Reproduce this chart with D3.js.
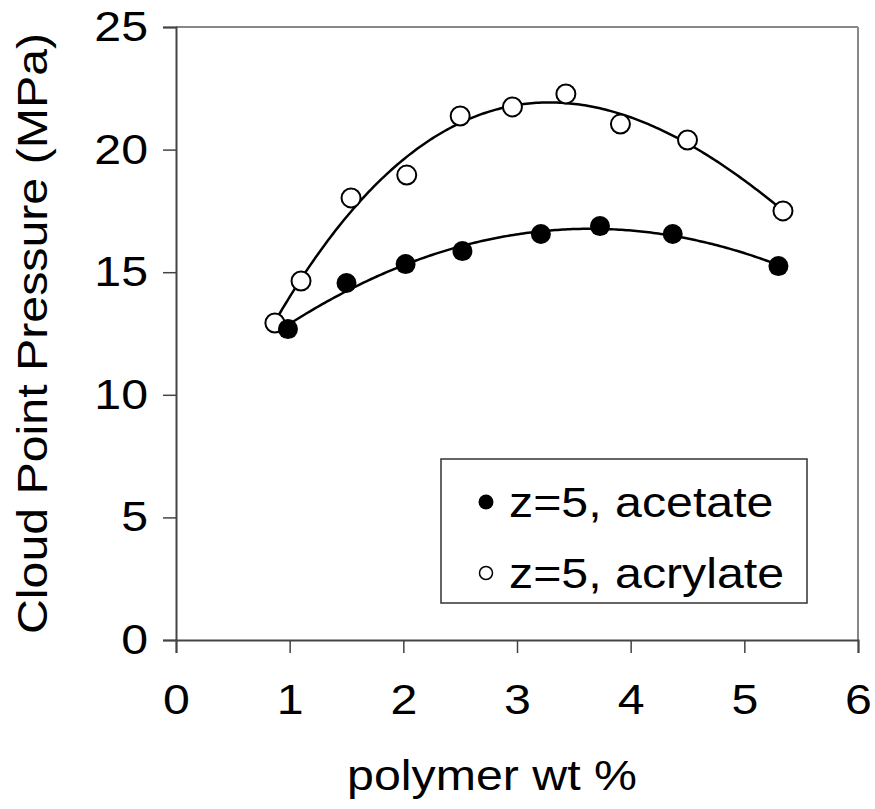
<!DOCTYPE html>
<html><head><meta charset="utf-8">
<script src="https://cdn.jsdelivr.net/npm/d3@7"></script>
<style>body{margin:0;background:#fff}svg{display:block}text{font-family:"Liberation Sans",Arial,sans-serif;fill:#000}</style>
</head><body><svg id="c" width="875" height="809"></svg>
<script>
const acetateX = [0.985, 1.50, 2.02, 2.52, 3.21, 3.73, 4.37, 5.30];
const acetateY = [12.68, 14.56, 15.33, 15.86, 16.56, 16.88, 16.56, 15.25];
const acrylateX = [0.87, 1.10, 1.54, 2.03, 2.50, 2.96, 3.43, 3.91, 4.50, 5.34];
const acrylateY = [12.93, 14.64, 18.03, 18.96, 21.37, 21.74, 22.27, 21.04, 20.39, 17.50];
const xTicks = [0, 1, 2, 3, 4, 5, 6];
const yTicks = [0, 5, 10, 15, 20, 25];
const legendLabels = ["z=5, acetate", "z=5, acrylate"];

const svg = d3.select("#c");
const L = 176, R = 858, T = 27, B = 640;
const SX = 1.15; // horizontal stretch of the original text
const x = d3.scaleLinear().domain([0, 6]).range([L, R]);
const y = d3.scaleLinear().domain([0, 25]).range([B, T]);

function polyfit(xs, ys, deg) {
  const n = deg + 1;
  const A = Array.from({length: n}, () => new Array(n + 1).fill(0));
  for (let k = 0; k < xs.length; k++) {
    for (let i = 0; i < n; i++) {
      for (let j = 0; j < n; j++) A[i][j] += Math.pow(xs[k], i + j);
      A[i][n] += ys[k] * Math.pow(xs[k], i);
    }
  }
  for (let i = 0; i < n; i++) {
    let p = i;
    for (let r = i + 1; r < n; r++) if (Math.abs(A[r][i]) > Math.abs(A[p][i])) p = r;
    [A[i], A[p]] = [A[p], A[i]];
    for (let r = 0; r < n; r++) {
      if (r === i) continue;
      const f = A[r][i] / A[i][i];
      for (let c = i; c <= n; c++) A[r][c] -= f * A[i][c];
    }
  }
  const coef = A.map((row, i) => row[n] / row[i]);
  return t => coef.reduce((s, c, i) => s + c * Math.pow(t, i), 0);
}

svg.append("line").attr("x1", L).attr("x2", R).attr("y1", T).attr("y2", T).attr("stroke", "#888").attr("stroke-width", 2);
svg.append("line").attr("x1", R).attr("x2", R).attr("y1", T).attr("y2", B).attr("stroke", "#888").attr("stroke-width", 2);

const xAxis = svg.append("g").attr("transform", `translate(0,${B})`)
  .call(d3.axisBottom(x).tickValues(xTicks).tickSize(13).tickPadding(31).tickFormat(d3.format("d")));
const yAxis = svg.append("g").attr("transform", `translate(${L},0)`)
  .call(d3.axisLeft(y).tickValues(yTicks).tickSize(13).tickPadding(15).tickFormat(d3.format("d")));
[xAxis, yAxis].forEach(g => {
  g.select(".domain").attr("stroke", "#444").attr("stroke-width", 2);
  g.selectAll(".tick line").attr("stroke", "#444").attr("stroke-width", 1.5);
  g.selectAll(".tick text").style("font-size", "42px").attr("fill", "#000");
});
xAxis.selectAll(".tick text").attr("transform", `scale(${SX},1)`);
yAxis.selectAll(".tick text").attr("x", -28 / SX).attr("transform", `scale(${SX},1)`);

function curve(xs, ys, deg) {
  const f = polyfit(xs, ys, deg);
  const x0 = d3.min(xs), x1 = d3.max(xs);
  const pts = d3.range(0, 201).map(i => x0 + (x1 - x0) * i / 200);
  svg.append("path").datum(pts)
    .attr("d", d3.line().x(t => x(t)).y(t => y(f(t))))
    .attr("fill", "none").attr("stroke", "#000").attr("stroke-width", 2.5);
}
curve(acetateX, acetateY, 3);
curve(acrylateX, acrylateY, 3);

svg.append("g").selectAll("circle").data(acrylateX).join("circle")
  .attr("cx", d => x(d)).attr("cy", (d, i) => y(acrylateY[i])).attr("r", 9.5)
  .attr("fill", "#fff").attr("stroke", "#000").attr("stroke-width", 2);
svg.append("g").selectAll("circle").data(acetateX).join("circle")
  .attr("cx", d => x(d)).attr("cy", (d, i) => y(acetateY[i])).attr("r", 10)
  .attr("fill", "#000");

svg.append("text").attr("transform", `translate(492,790) scale(${SX},1)`).attr("text-anchor", "middle")
  .style("font-size", "42px").text("polymer wt %");
svg.append("text").attr("transform", `translate(47,${(T + B) / 2}) rotate(-90) scale(${SX},1)`).attr("text-anchor", "middle")
  .style("font-size", "42px").text("Cloud Point Pressure (MPa)");

const lg = svg.append("g");
lg.append("rect").attr("x", 441).attr("y", 459).attr("width", 366).attr("height", 144)
  .attr("fill", "#fff").attr("stroke", "#333").attr("stroke-width", 1.5);
legendLabels.forEach((lab, i) => {
  const cy = 502 + i * 71;
  lg.append("circle").attr("cx", 486).attr("cy", cy).attr("r", i === 0 ? 7.5 : 6.5)
    .attr("fill", i === 0 ? "#000" : "#fff").attr("stroke", "#000").attr("stroke-width", i === 0 ? 0 : 1.5);
  lg.append("text").attr("transform", `translate(509,${cy + 15}) scale(${SX},1)`).style("font-size", "42px").text(lab);
});
</script></body></html>
